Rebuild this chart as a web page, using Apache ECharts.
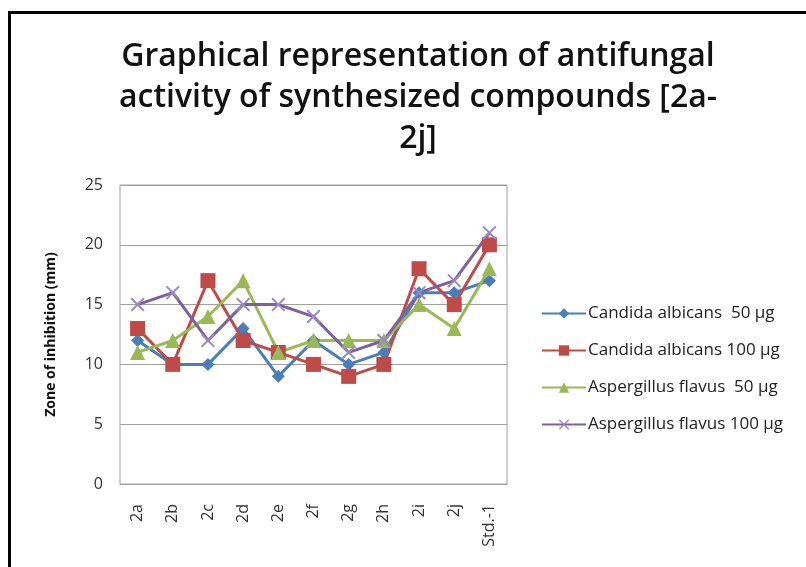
<!DOCTYPE html>
<html>
<head>
<meta charset="utf-8">
<script src="https://cdn.jsdelivr.net/npm/echarts@6/dist/echarts.min.js"></script>
<style>
  html, body { margin: 0; padding: 0; background: #fff; }
  #frame { position: absolute; left: 8px; top: 11px; width: 798px; height: 556px;
    border-left: 3px solid #000; border-top: 3px solid #000; box-sizing: border-box; }
  #chart { position: absolute; left: 0; top: 0; width: 806px; height: 567px; }
</style>
</head>
<body>
<div id="chart"></div>
<div id="frame"></div>
<script>
// compounds on the x axis
const categories = ["2a", "2b", "2c", "2d", "2e", "2f", "2g", "2h", "2i", "2j", "Std.-1"];
// zone of inhibition (mm)
const candida50 = [12, 10, 10, 13, 9, 12, 10, 11, 16, 16, 17];
const candida100 = [13, 10, 17, 12, 11, 10, 9, 10, 18, 15, 20];
const asper50 = [11, 12, 14, 17, 11, 12, 12, 12, 15, 13, 18];
const asper100 = [15, 16, 12, 15, 15, 14, 11, 12, 16, 17, 21];
const seriesNames = ["Candida albicans  50 \u00b5g", "Candida albicans 100 \u00b5g", "Aspergillus flavus  50 \u00b5g", "Aspergillus flavus 100 \u00b5g"];

const FONT = "Open Sans";
const cross = "path://M0,1L1,0L5,4L9,0L10,1L6,5L10,9L9,10L5,6L1,10L0,9L4,5Z";

const mk = (name, data, color, symbol, size, markColor) => ({
  name,
  type: "line",
  data,
  symbol,
  symbolSize: size,
  showAllSymbol: true,
  lineStyle: { color, width: 3 },
  itemStyle: { color: markColor || color },
  emphasis: { disabled: true },
  z: 2
});

const chart = echarts.init(document.getElementById("chart"));
chart.setOption({
  animation: false,
  title: {
    text: "Graphical representation of antifungal\nactivity of synthesized compounds [2a-\n2j]",
    left: 413,
    textAlign: "center",
    top: 31,
    textStyle: { fontFamily: FONT, fontWeight: 600, fontSize: 32, lineHeight: 41, color: "#111" }
  },
  legend: {
    orient: "vertical",
    left: 536,
    top: 300,
    itemWidth: 44,
    itemHeight: 13,
    itemGap: 20,
    textStyle: { fontFamily: FONT, fontSize: 17, color: "#222", padding: [0, 0, 0, -3] },
    data: seriesNames
  },
  grid: { left: 120, right: 299, top: 185, bottom: 83, show: true, borderColor: "#a0a0a0", borderWidth: 1 },
  xAxis: {
    type: "category",
    data: categories,
    boundaryGap: true,
    axisLine: { show: true, lineStyle: { color: "#a0a0a0" } },
    axisTick: { show: false },
    axisLabel: { rotate: 90, margin: 20, fontFamily: FONT, fontSize: 16, color: "#333" }
  },
  yAxis: {
    type: "value",
    min: 0,
    max: 25,
    interval: 5,
    name: "Zone of inhibition (mm)",
    nameLocation: "middle",
    nameGap: 62,
    nameTextStyle: { fontFamily: FONT, fontWeight: "bold", fontSize: 14, color: "#111" },
    axisLine: { show: false },
    axisTick: { show: false },
    axisLabel: { margin: 17, fontFamily: FONT, fontSize: 16, color: "#333" },
    splitLine: { lineStyle: { color: "#a0a0a0", width: 1 } }
  },
  series: [
    mk(seriesNames[0], candida50, "#4A7EBB", "diamond", 13),
    mk(seriesNames[1], candida100, "#BE4B48", "rect", 15),
    mk(seriesNames[2], asper50, "#98B954", "triangle", 15),
    mk(seriesNames[3], asper100, "#7D60A0", cross, 14, "#9A88C8")
  ]
});
</script>
</body>
</html>
